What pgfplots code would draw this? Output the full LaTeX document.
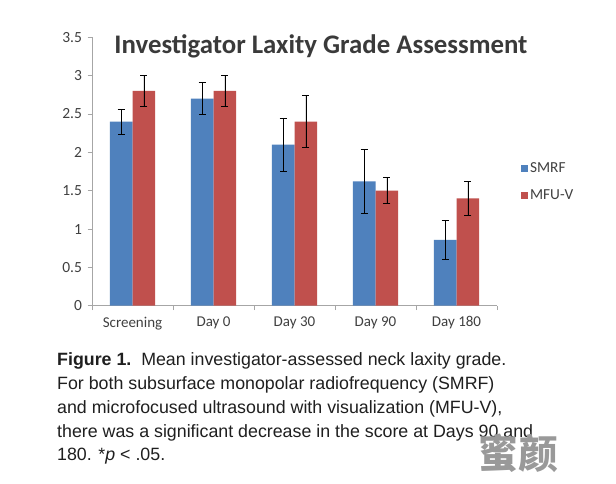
\documentclass[border=0pt]{standalone}
\usepackage{pgfplots}
\pgfplotsset{compat=1.18}
\usepackage{pgfplotstable}
\usepackage{fontspec}
\setmainfont{Carlito}
\newfontfamily\capfont{Liberation Sans}
\newfontfamily\cjk{Noto Sans CJK SC}
\definecolor{smrf}{HTML}{4F81BD}
\definecolor{mfuv}{HTML}{C0504D}
\definecolor{axgray}{HTML}{A6A6A6}
\definecolor{txtgray}{HTML}{404040}
\pgfplotstableread{
x smrf smrferr mfuv mfuverr
0 2.40 0.165 2.80 0.20
1 2.70 0.21 2.80 0.20
2 2.10 0.35 2.40 0.34
3 1.62 0.42 1.50 0.17
4 0.86 0.255 1.40 0.22
}\datatable
\begin{document}
\begin{tikzpicture}[x=1pt,y=1pt]
\path[use as bounding box, fill=white] (0,0) rectangle (616,483);
\begin{axis}[
  at={(92pt,177.3pt)}, anchor=south west, scale only axis,
  width=405pt, height=268.4pt,
  xmin=-0.5, xmax=4.5, ymin=0, ymax=3.5,
  ybar=0pt, bar width=22.6pt,
  axis x line*=bottom, axis y line*=left,
  axis line style={-, axgray, line width=0.7pt},
  tick style={axgray, line width=0.7pt},
  major tick length=4.5pt, tick align=outside,
  xtick={-0.5,0.5,1.5,2.5,3.5,4.5},
  xticklabels={Screening,Day 0,Day 30,Day 90,Day 180,{}},
  xticklabel style={xshift=40.5pt, yshift=-3pt, font=\fontsize{15}{18}\selectfont, text=txtgray},
  ytick={0,0.5,1,1.5,2,2.5,3,3.5},
  yticklabel style={font=\fontsize{15.5}{18}\selectfont, text=txtgray, xshift=-2pt},
  /pgf/number format/assume math mode=true,
  /pgf/number format/fixed,
  legend style={at={(1.059,0.461)}, anchor=west, draw=none, fill=none,
    inner sep=0pt, font=\fontsize{15.3}{18}\selectfont, text=txtgray,
    row sep=12pt},
  legend cell align=left,
  legend image code/.code={\fill[#1] (0pt,-3.5pt) rectangle (7pt,3.5pt);},
]
\addplot[fill=smrf, draw=none,
  error bars/.cd, y dir=both, y explicit,
  error bar style={black, line width=0.6pt},
  error mark options={rotate=90, mark size=3.5pt, black, line width=0.6pt}]
  table[x=x, y=smrf, y error=smrferr]{\datatable};
\addplot[fill=mfuv, draw=none,
  error bars/.cd, y dir=both, y explicit,
  error bar style={black, line width=0.6pt},
  error mark options={rotate=90, mark size=3.5pt, black, line width=0.6pt}]
  table[x=x, y=mfuv, y error=mfuverr]{\datatable};
\legend{SMRF,MFU-V}
\end{axis}
\node[font=\fontsize{26.8}{32}\selectfont\bfseries, text=txtgray!90!black] at (321,437) {Investigator Laxity Grade Assessment};
\begin{scope}[every node/.style={anchor=base west, inner sep=0pt, font=\capfont\fontsize{17.8}{21}\selectfont, text=black!88}]
\node at (57,118) {\textbf{Figure 1.}\ \ Mean investigator-assessed neck laxity grade.};
\node at (57,94) {For both subsurface monopolar radiofrequency (SMRF)};
\node at (57,70) {and microfocused ultrasound with visualization (MFU-V),};
\node at (57,46) {there was a significant decrease in the score at Days 90 and};
\node at (57,23) {180. *\textit{p} < .05.};
\end{scope}
\node[font=\cjk\fontsize{40}{44}\selectfont\bfseries, text=black!40] at (518,30) {蜜颜};
\end{tikzpicture}
\end{document}
